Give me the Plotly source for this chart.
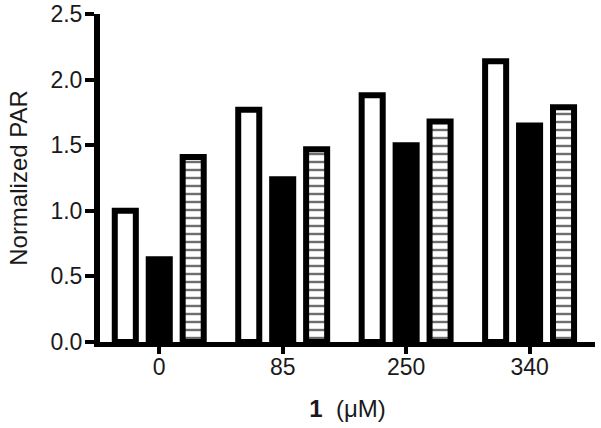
import plotly.graph_objects as go

categories = ["0", "85", "250", "340"]
white_vals = [1.00, 1.77, 1.88, 2.14]
black_vals = [0.63, 1.24, 1.50, 1.65]
hatch_vals = [1.41, 1.47, 1.68, 1.79]
y_ticks = [0.0, 0.5, 1.0, 1.5, 2.0, 2.5]

FONT = "Liberation Sans, Arial, sans-serif"
TXT = "#1a1a1a"

fig = go.Figure()
fig.add_trace(go.Bar(x=categories, y=white_vals, name="a",
                     marker=dict(color="white", line=dict(color="black", width=6))))
fig.add_trace(go.Bar(x=categories, y=black_vals, name="b",
                     marker=dict(color="black", line=dict(color="black", width=6))))
fig.add_trace(go.Bar(x=categories, y=hatch_vals, name="c",
                     marker=dict(color="white", line=dict(color="black", width=6),
                                 pattern=dict(shape="-", size=8, solidity=0.3,
                                              fgcolor="#6e6e6e", bgcolor="white",
                                              fillmode="replace"))))

fig.update_layout(
    width=601, height=428,
    margin=dict(l=100, r=6, t=14, b=86),
    plot_bgcolor="white", paper_bgcolor="white",
    barmode="group", bargap=0.175, bargroupgap=0.38,
    showlegend=False,
    font=dict(family=FONT, size=23, color=TXT),
)
fig.update_xaxes(
    type="category", range=[-0.48, 3.53], automargin=False,
    showline=True, linewidth=5, linecolor="black",
    ticks="outside", ticklen=7, tickwidth=4, tickcolor="black",
    showgrid=False, zeroline=False,
    tickfont=dict(size=23, color=TXT), ticklabelstandoff=-7,
    title=dict(text="<b>1</b>\u00a0\u00a0(μM)", font=dict(size=24, color=TXT), standoff=23),
)
fig.update_yaxes(
    range=[0, 2.5], tickvals=y_ticks, tickformat=".1f", automargin=False,
    showline=True, linewidth=6, linecolor="black",
    ticks="outside", ticklen=9, tickwidth=4, tickcolor="black",
    showgrid=False, zeroline=False,
    tickfont=dict(size=23, color=TXT), ticklabelstandoff=-2,
    title=dict(text="Normalized PAR", font=dict(size=24, color=TXT), standoff=18),
)

fig.write_html("out.html", config={"displayModeBar": False},
               post_script="document.body.style.margin='0';")
